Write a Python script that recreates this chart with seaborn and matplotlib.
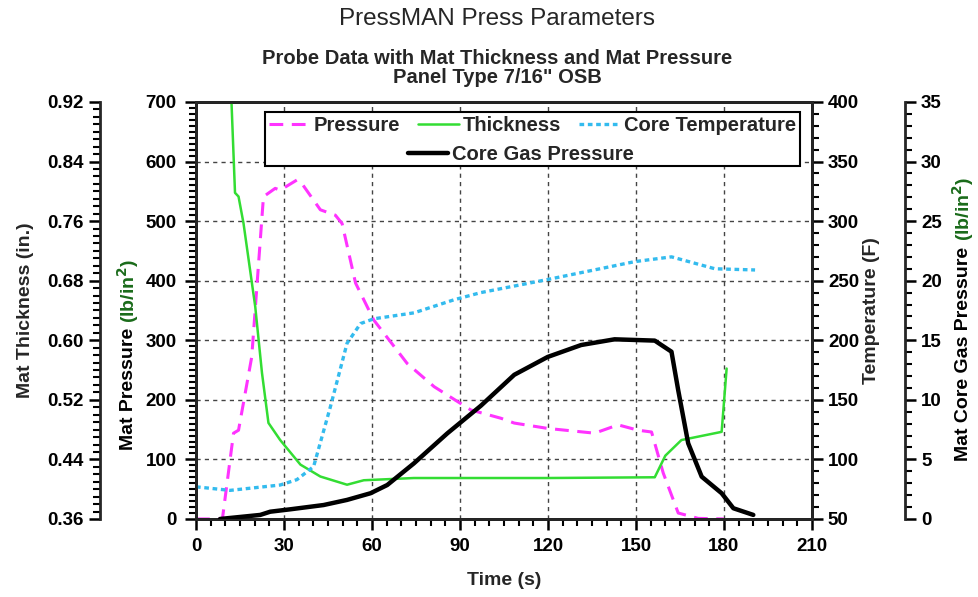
import matplotlib
matplotlib.use("Agg")
import matplotlib.pyplot as plt
from matplotlib.lines import Line2D
from matplotlib.ticker import MultipleLocator
import numpy as np
import seaborn as sns

# ---- data ----
press_t = [0, 9, 12.8, 14.5, 19.0, 23.0, 27.0, 28.7, 34.4, 36.1, 42.4, 47.5, 49.8, 54.4,
           60.6, 72.0, 81.2, 93.7, 104, 108.5, 119.9, 135.9, 143.9, 150.7, 155.3, 159.3,
           164.4, 171.2, 180]
press_v = [0, 0, 144, 149, 272, 541, 555, 552, 569, 563, 519, 510, 496, 396,
           334, 261, 222, 183, 169, 161, 152, 144, 158, 149, 146, 77,
           10, 1, 0]

thick_t = [12.0, 13.3, 14.5, 16.2, 20.2, 22.5, 24.7, 28.7, 35.6, 42.4, 51.5, 57.2, 74.3,
           120, 156.4, 160, 165.5, 179.2, 180.9]
thick_v = [0.93, 0.798, 0.793, 0.757, 0.645, 0.556, 0.489, 0.466, 0.433, 0.417, 0.406,
           0.412, 0.415, 0.415, 0.416, 0.445, 0.466, 0.477, 0.562]

temp_t = [0, 11.6, 28.7, 34.4, 40.1, 45.8, 51.5, 56.1, 60.6, 74.3, 88, 97.1, 119.9,
          149.6, 162.1, 176.9, 190.6]
temp_v = [77, 74, 78.5, 83, 94, 144, 197.5, 214, 218, 223, 234, 240, 251,
          266, 270, 260, 259]

gas_t = [8.2, 21.9, 25.3, 32.1, 43.5, 51.5, 59.5, 65.2, 74.3, 85.7, 97.1, 108.5, 119.9,
         131.3, 142.7, 156.4, 162.1, 164.4, 167.8, 172.4, 179.2, 183.2, 190]
gas_v = [0, 0.34, 0.61, 0.81, 1.17, 1.6, 2.16, 2.85, 4.67, 7.19, 9.5, 12.1, 13.6,
         14.6, 15.08, 14.97, 14.04, 10.8, 6.35, 3.55, 2.16, 0.9, 0.34]

x_ticks = [0, 30, 60, 90, 120, 150, 180, 210]

sns.set_theme(style="white")
plt.rcParams['font.family'] = ['Liberation Sans', 'DejaVu Sans']
plt.rcParams['font.weight'] = 'bold'
plt.rcParams['axes.linewidth'] = 2.0

black = '#000000'
c_press = '#ff33ff'
c_thick = '#33dd33'
c_temp = '#33bbee'
c_unit = '#1a6b1a'
dash_press = (4.5, 2.8)
dash_temp = (1.4, 1.1)

fig = plt.figure(figsize=(9.79, 5.97), dpi=100)
ax = fig.add_axes([0.2002, 0.1307, 0.6292, 0.6985])
ax_th = ax.twinx()
ax_T = ax.twinx()
ax_g = ax.twinx()

tick_kw = dict(direction='out', colors=black, labelsize=13.5)

# host: mat pressure
sns.lineplot(x=press_t, y=press_v, ax=ax, color=c_press, lw=2.2, legend=False)
ax.lines[-1].set_dashes(dash_press)
ax.set_xlim(0, 210)
ax.set_ylim(0, 700)
ax.set_xticks(x_ticks)
ax.xaxis.set_minor_locator(MultipleLocator(5))
ax.yaxis.set_major_locator(MultipleLocator(100))
ax.yaxis.set_minor_locator(MultipleLocator(10))
ax.tick_params(axis='both', which='major', length=8, width=1.8, pad=6, **tick_kw)
ax.tick_params(axis='both', which='minor', length=5, width=1.5, direction='out', colors=black)
ax.tick_params(axis='x', which='both', bottom=True)
ax.tick_params(axis='y', which='both', left=True)
ax.set_xlabel('Time (s)', fontsize=14, fontweight='bold', labelpad=12)
ax.set_ylabel('')
for xv in x_ticks[1:-1]:
    ax.axvline(xv, color='#444444', lw=1.0, ls=(0, (3, 3)), zorder=0)
for yv in range(100, 700, 100):
    ax.axhline(yv, color='#444444', lw=1.0, ls=(0, (3, 3)), zorder=0)
for s in ax.spines.values():
    s.set_color(black)
    s.set_linewidth(2.0)

# thickness, outer left axis
sns.lineplot(x=thick_t, y=thick_v, ax=ax_th, color=c_thick, lw=1.8, legend=False)
ax_th.set_ylim(0.36, 0.92)
ax_th.yaxis.set_label_position('left')
ax_th.yaxis.set_ticks_position('left')
ax_th.spines['left'].set_position(('axes', -0.156))
ax_th.spines['left'].set_visible(True)
ax_th.spines['right'].set_visible(False)
ax_th.spines['top'].set_visible(False)
ax_th.spines['bottom'].set_visible(False)
ax_th.set_yticks(np.arange(0.36, 0.93, 0.08))
ax_th.yaxis.set_major_formatter(plt.FormatStrFormatter('%.2f'))
ax_th.yaxis.set_minor_locator(MultipleLocator(0.01))
ax_th.tick_params(axis='y', which='major', length=8, width=1.8, **tick_kw)
ax_th.tick_params(axis='y', which='minor', length=5, width=1.5, direction='out', colors=black)
ax_th.set_ylabel('Mat Thickness (in.)', fontsize=14, fontweight='bold', labelpad=10)

# core temperature, inner right axis
sns.lineplot(x=temp_t, y=temp_v, ax=ax_T, color=c_temp, lw=2.4, legend=False)
ax_T.lines[-1].set_dashes(dash_temp)
ax_T.set_ylim(50, 400)
ax_T.yaxis.set_major_locator(MultipleLocator(50))
ax_T.yaxis.set_minor_locator(MultipleLocator(10))
ax_T.tick_params(axis='y', which='major', length=8, width=1.8, right=True, **tick_kw)
ax_T.tick_params(axis='y', which='minor', length=5, width=1.5, right=True,
                 direction='out', colors=black)
ax_T.set_ylabel('Temperature (F)', fontsize=14, fontweight='bold', labelpad=3)

# core gas pressure, outer right axis
sns.lineplot(x=gas_t, y=gas_v, ax=ax_g, color=black, lw=3.2, legend=False)
ax_g.set_ylim(0, 35)
ax_g.spines['right'].set_position(('axes', 1.151))
ax_g.spines['left'].set_visible(False)
ax_g.spines['top'].set_visible(False)
ax_g.spines['bottom'].set_visible(False)
ax_g.yaxis.set_major_locator(MultipleLocator(5))
ax_g.yaxis.set_minor_locator(MultipleLocator(1))
ax_g.tick_params(axis='y', which='major', length=8, width=1.8, right=True, **tick_kw)
ax_g.tick_params(axis='y', which='minor', length=5, width=1.5, right=True,
                 direction='out', colors=black)
ax_g.set_ylabel('')

for a in (ax_th, ax_T, ax_g):
    a.set_xlim(0, 210)
    a.grid(False)
ax.grid(False)

# two-colour axis labels
lab_kw = dict(fontsize=14, fontweight='bold', rotation=90)
t1 = fig.text(0.131, 0.246, 'Mat Pressure ', ha='center', va='bottom', color=black, **lab_kw)
ax.annotate('(lb/in$^\\mathbf{2}$)', xy=(0.5, 1.0), xycoords=t1, ha='center', va='bottom',
            color=c_unit, annotation_clip=False, **lab_kw)
t2 = fig.text(0.9837, 0.228, 'Mat Core Gas Pressure ', ha='center', va='bottom',
              color=black, **lab_kw)
ax.annotate('(lb/in$^\\mathbf{2}$)', xy=(0.5, 1.0), xycoords=t2, ha='center', va='bottom',
            color=c_unit, annotation_clip=False, **lab_kw)

# legend: framed first row plus an empty row, second row entry drawn on top
blank = Line2D([], [], color='none')
handles = [
    Line2D([], [], color=c_press, lw=2.2, dashes=dash_press), blank,
    Line2D([], [], color=c_thick, lw=1.8), blank,
    Line2D([], [], color=c_temp, lw=2.4, dashes=dash_temp), blank,
]
labels = ['Pressure', ' ', 'Thickness', ' ', 'Core Temperature', ' ']
leg_prop = {'weight': 'bold', 'size': 14.5}
leg = ax_g.legend(handles, labels, ncol=3, loc='upper right', bbox_to_anchor=(0.98, 0.976),
                  frameon=True, fancybox=False, edgecolor=black, framealpha=1,
                  prop=leg_prop, handlelength=2.0, handletextpad=0.2,
                  columnspacing=0.9, labelspacing=0.4, borderpad=0.2, borderaxespad=0)
leg.get_frame().set_linewidth(1.5)
ax_g.add_artist(leg)
leg2 = ax_g.legend([Line2D([], [], color=black, lw=3.2)], ['Core Gas Pressure'],
                   loc='upper left', bbox_to_anchor=(0.344, 0.897), frameon=False,
                   prop=leg_prop, handlelength=2.0, handletextpad=0.2, borderpad=0.0,
                   borderaxespad=0)

# titles
fig.text(0.508, 0.968, 'PressMAN Press Parameters', ha='center', va='center',
         fontsize=17.5, fontweight='normal')
fig.text(0.508, 0.886, 'Probe Data with Mat Thickness and Mat Pressure\nPanel Type 7/16" OSB',
         ha='center', va='center', fontsize=14.5, fontweight='bold', linespacing=1.05)

fig.savefig('out.png', dpi=100)
